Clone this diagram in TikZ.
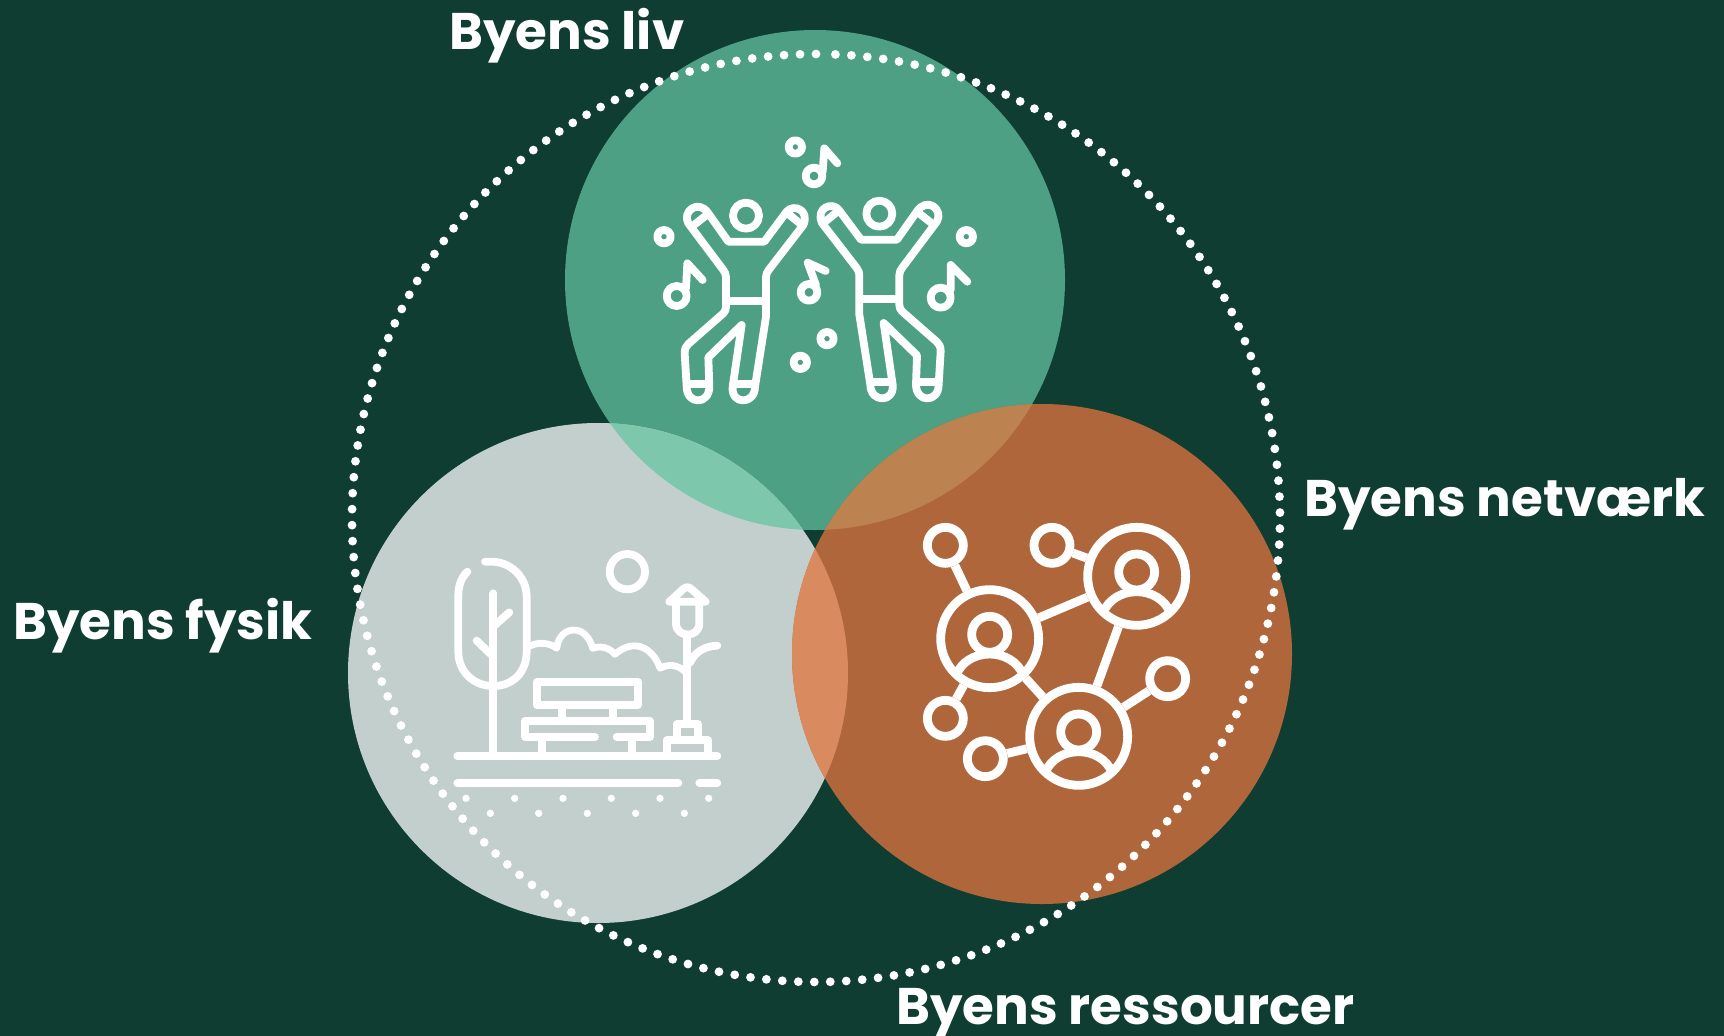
\documentclass[tikz,border=0pt]{standalone}
\usepackage{fontspec}
\setmainfont{Poppins}
\definecolor{bgc}{HTML}{0F3D32}
\definecolor{greenc}{HTML}{4DA083}
\definecolor{grayc}{HTML}{C2CFCC}
\definecolor{orangec}{HTML}{AF663B}
\definecolor{gg}{HTML}{7DC7AC}
\definecolor{go}{HTML}{BC824F}
\definecolor{ao}{HTML}{DA8A5F}
\tikzset{
  lbl/.style={font=\bfseries\fontsize{51.5}{51.5}\selectfont,text=white,anchor=base west,inner sep=0pt},
  ico/.style={draw=white,line width=7.8pt,line cap=round,line join=round},
  icothin/.style={draw=white,line width=6.8pt,line cap=round,line join=round},
  big/.style={circle,draw=white,line width=8.8pt,minimum size=98pt,inner sep=0pt},
  small/.style={circle,draw=white,line width=8.8pt,minimum size=36pt,inner sep=0pt},
  link/.style={draw=white,line width=8.8pt},
  zoomframe/.style={x=.33333pt,y=-.33333pt}
}
\newcommand{\circG}{(815,280) circle[radius=250]}
\newcommand{\circA}{(598,673) circle[radius=250]}
\newcommand{\circO}{(1042,654) circle[radius=250]}
\newcommand{\dancerman}{%
  \draw[ico] (318,287) circle[radius=39];
  \draw[ico] (265,365) -- (373,365) -- (440,275)
    .. controls (460,250) and (510,270) .. (490,315)
    -- (386,450) .. controls (380,458) and (378,464) .. (378,472)
    -- (378,590) -- (345,800)
    .. controls (345,855) and (272,855) .. (278,800)
    -- (305,615) -- (205,712) -- (208,800)
    .. controls (208,855) and (140,855) .. (140,800)
    -- (134,700) .. controls (134,685) and (138,680) .. (145,672)
    -- (250,580) .. controls (256,574) and (258,568) .. (258,560)
    -- (258,472) .. controls (258,462) and (255,458) .. (250,450)
    -- (145,310) .. controls (125,275) and (175,235) .. (205,280)
    -- cycle;
  \draw[ico,line cap=butt] (258,543) -- (378,543);
  \draw[ico,line cap=butt] (158,318) -- (200,285);
  \draw[ico,line cap=butt] (440,278) -- (482,312);
  \draw[ico,line cap=butt] (140,793) -- (208,793);
  \draw[ico,line cap=butt] (278,793) -- (345,793);
}
\newcommand{\person}[2]{%
  \draw[link] (#1,#2-13) circle[radius=54];
  \draw[link,line cap=butt] (#1-100,#2+108) .. controls (#1-85,#2+70) and (#1-45,#2+46) .. (#1,#2+46)
     .. controls (#1+45,#2+46) and (#1+85,#2+70) .. (#1+100,#2+108);
}
\begin{document}
\begin{tikzpicture}[x=1pt,y=-1pt]
\useasboundingbox (0,0) rectangle (1724,1036);
\fill[bgc] (0,0) rectangle (1724,1036);
% circles
\fill[greenc] \circG;
\fill[grayc] \circA;
\fill[orangec] \circO;
\begin{scope}\clip \circG; \fill[gg] \circA; \fill[go] \circO; \end{scope}
\begin{scope}\clip \circA; \fill[ao] \circO; \end{scope}
% dotted circle
\foreach \i in {0,...,181} {
  \pgfmathsetmacro{\ang}{87.6-\i*1.9757}
  \fill[white] ({816+464*cos(\ang)},{518-464*sin(\ang)}) circle[radius=4.4];
}
% labels
\node[lbl] (lliv) at (449,49) {Byens liv};
\node[lbl] (lnet) at (1304,516) {Byens netværk};
\node[lbl] (lfys) at (13,639) {Byens fysik};
\node[lbl] (lres) at (896,1024) {Byens ressourcer};
% dancers
\begin{scope}[shift={(640,120)},zoomframe]
  \dancerman
  \foreach \x/\y in {466/81,72/350,979/350,561/656,481/727} \draw[ico] (\x,\y) circle[radius=20];
  \foreach \x/\y/\r in {522/168/25,110/528/30,507/517/25,902/533/30} \draw[ico] (\x,\y) circle[radius=\r];
  \draw[ico] (548,155) -- (553,85) -- (592,130);
  \draw[ico] (138,505) -- (142,430) -- (188,480);
  \draw[ico] (528,495) -- (503,428) -- (557,453);
  \draw[ico] (932,510) -- (932,435) -- (982,485);
\end{scope}
\begin{scope}[shift={(985.33,118)},x=-.33333pt,y=-.33333pt]
  \dancerman
\end{scope}
% park
\begin{scope}[shift={(430,540)},zoomframe]
  \draw[ico] (592,95) circle[radius=53];
  \draw[ico] (112,95) .. controls (95,112) and (85,135) .. (85,165) -- (85,335)
     .. controls (85,395) and (130,438) .. (190,438) .. controls (250,438) and (290,395) .. (290,335)
     -- (290,170) .. controls (290,110) and (240,65) .. (185,65) -- (165,65);
  \draw[ico] (190,160) -- (190,648);
  \draw[ico] (195,255) -- (238,217);
  \draw[ico] (140,302) -- (190,350);
  \draw[ico] (82,648) -- (862,648);
  \draw[ico] (82,729) -- (745,729);
  \draw[ico] (808,729) -- (862,729);
  \foreach \x in {108,254,399,544,690,836} \fill[white] (\x,775) circle[radius=11];
  \foreach \x in {181,326,472,617,763} \fill[white] (\x,820) circle[radius=11];
  % bench
  \draw[ico] (320,425) rectangle (625,495);
  \draw[ico] (395,495) -- (395,543);
  \draw[ico] (548,495) -- (548,543);
  \draw[ico] (495,591) -- (285,591) -- (285,543) -- (660,543) -- (660,591) -- (560,591);
  \draw[ico] (337,591) -- (337,648);
  \draw[ico] (607,591) -- (607,648);
  % lamp
  \draw[ico] (772,290) -- (772,553);
  \draw[ico] (740,600) -- (740,553) -- (805,553) -- (805,600);
  \draw[ico] (710,648) -- (710,601) -- (835,601) -- (835,648);
  \draw[ico] (718,185) -- (760,147) .. controls (768,140) and (776,140) .. (784,147) -- (827,185) -- cycle;
  \draw[ico] (738,190) -- (738,250) .. controls (738,295) and (808,295) .. (808,250) -- (808,190);
  \draw[ico] (780,368) .. controls (795,335) and (825,318) .. (862,317);
  % bush
  \draw[icothin] (300,318) .. controls (325,305) and (360,308) .. (380,325)
    .. controls (385,285) and (410,270) .. (432,270) .. controls (460,270) and (480,295) .. (488,325)
    .. controls (515,315) and (540,325) .. (555,343)
    .. controls (575,325) and (600,315) .. (620,318) .. controls (650,320) and (680,350) .. (690,385)
    .. controls (715,370) and (745,375) .. (765,395);
\end{scope}
% network
\begin{scope}[shift={(900,500)},zoomframe]
  \node[big] (pa) at (269,416) {};
  \node[big] (pb) at (710,229) {};
  \node[big] (pc) at (536,709) {};
  \node[small] (s1) at (136,136) {};
  \node[small] (s2) at (456,136) {};
  \node[small] (s3) at (136,655) {};
  \node[small] (s4) at (256,776) {};
  \node[small] (s5) at (803,536) {};
  \draw[link] (s1) -- (pa);
  \draw[link] (s2) -- (pb);
  \draw[link] (s3) -- (pa);
  \draw[link] (s4) -- (pc);
  \draw[link] (s5) -- (pc);
  \draw[link] (pa) -- (pb);
  \draw[link] (pb) -- (pc);
  \draw[link] (pa) -- (pc);
  \person{269}{416}
  \person{710}{229}
  \person{536}{709}
\end{scope}
\end{tikzpicture}
\end{document}
